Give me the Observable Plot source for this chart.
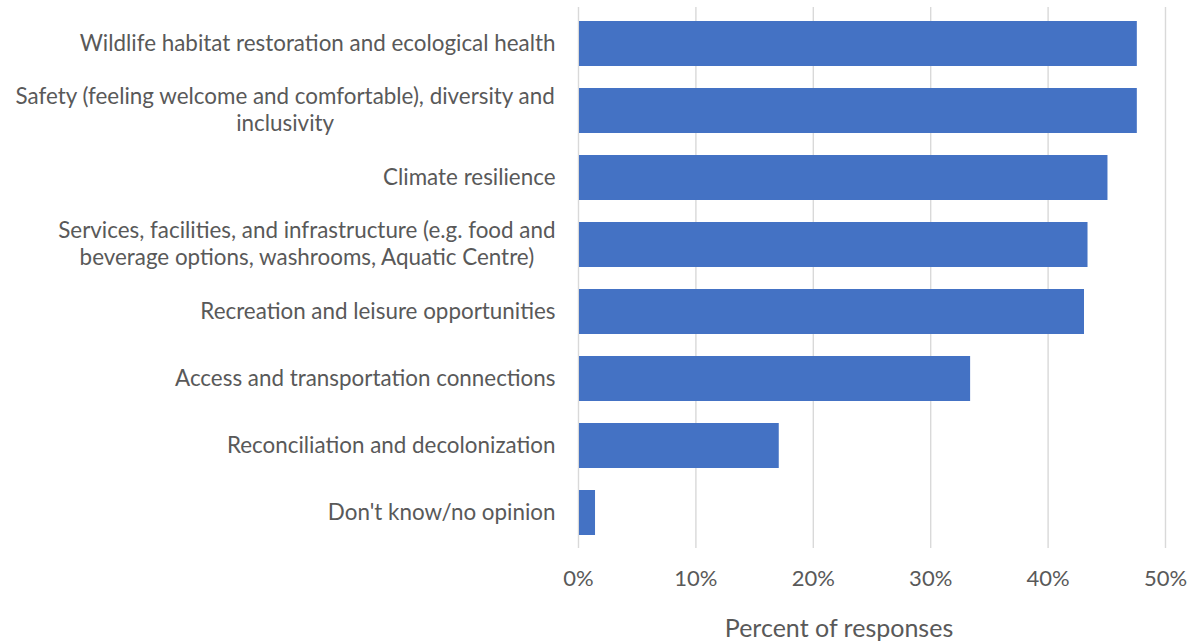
<!DOCTYPE html>
<html>
<head>
<meta charset="utf-8">
<script src="https://cdn.jsdelivr.net/npm/d3@7"></script>
<script src="https://cdn.jsdelivr.net/npm/@observablehq/plot@0.6"></script>
<style>
  html, body { margin: 0; padding: 0; background: #fff; }
  #chart { width: 1194px; height: 641px; }
</style>
</head>
<body>
<div id="chart"></div>
<script>
// Data
const categories = [
  "Wildlife habitat restoration and ecological health",
  "Safety (feeling welcome and comfortable), diversity and inclusivity",
  "Climate resilience",
  "Services, facilities, and infrastructure (e.g. food and beverage options, washrooms, Aquatic Centre)",
  "Recreation and leisure opportunities",
  "Access and transportation connections",
  "Reconciliation and decolonization",
  "Don't know/no opinion"
];
const labelLines = [
  ["Wildlife habitat restoration and ecological health"],
  ["Safety (feeling welcome and comfortable), diversity and", "inclusivity"],
  ["Climate resilience"],
  ["Services, facilities, and infrastructure (e.g. food and", "beverage options, washrooms, Aquatic Centre)"],
  ["Recreation and leisure opportunities"],
  ["Access and transportation connections"],
  ["Reconciliation and decolonization"],
  ["Don't know/no opinion"]
];
const percents = [47.6, 47.6, 45.1, 43.4, 43.1, 33.4, 17.1, 1.45];
const xTicks = [0, 10, 20, 30, 40, 50];
const xTitle = "Percent of responses";

const data = categories.map((c, i) => ({category: c, value: percents[i]}));

const FONT = "Lato, 'Open Sans', sans-serif";
const labelSize = 22.4;
const tickSize = 22;
const textColor = "#595959";

const ctx = document.createElement("canvas").getContext("2d");
ctx.font = `${labelSize}px Lato`;
const measure = s => ctx.measureText(s).width;

const labelMarks = categories.map((c, i) => {
  const lines = labelLines[i];
  const w = Math.max(...lines.map(measure));
  return Plot.text([c], {
    y: d => d,
    text: () => lines.join("\n"),
    frameAnchor: "left",
    textAnchor: "middle",
    lineAnchor: "middle",
    lineHeight: 1.22,
    dx: -(23 + w / 2),
    dy: -2,
    fontSize: labelSize,
    fill: textColor
  });
});

const plot = Plot.plot({
  width: 1194,
  height: 641,
  marginLeft: 578,
  marginRight: 29,
  marginTop: 7,
  marginBottom: 93,
  style: {fontFamily: FONT, background: "#fff"},
  x: {domain: [0, 50], ticks: xTicks},
  y: {domain: categories, paddingInner: 0.333, paddingOuter: 0.1667, axis: null},
  marks: [
    Plot.gridX(xTicks, {stroke: "#d9d9d9", strokeOpacity: 1, strokeWidth: 1.4}),
    Plot.barX(data, {y: "category", x: "value", fill: "#4472C4", insetLeft: 1}),
    Plot.axisX(xTicks, {
      tickSize: 0,
      tickPadding: 22,
      tickFormat: d => d + "%",
      fontSize: tickSize,
      fill: textColor,
      label: null
    }),
    ...labelMarks,
    Plot.text([xTitle], {
      frameAnchor: "bottom",
      lineAnchor: "middle",
      dy: 80,
      dx: -33,
      fontSize: 25,
      fill: textColor
    })
  ]
});
document.getElementById("chart").appendChild(plot);
</script>
</body>
</html>
